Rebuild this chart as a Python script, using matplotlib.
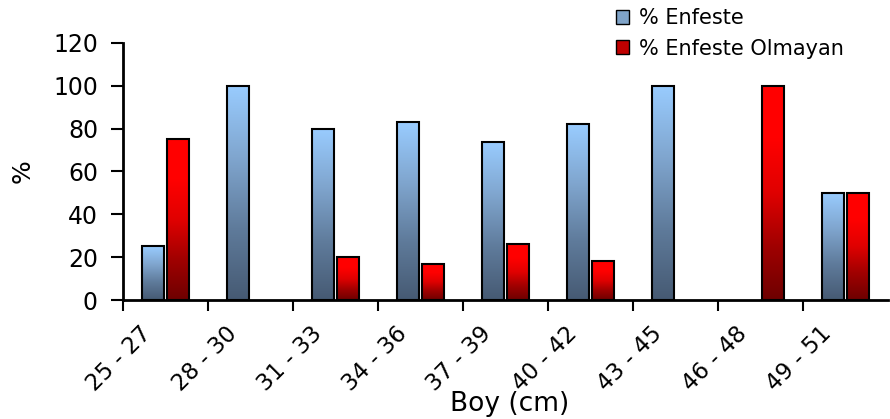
import numpy as np
import matplotlib.pyplot as plt
from matplotlib.colors import LinearSegmentedColormap
from matplotlib.patches import Patch

plt.rcParams['font.family'] = ['DejaVu Sans']

categories = ["25 - 27", "28 - 30", "31 - 33", "34 - 36", "37 - 39",
              "40 - 42", "43 - 45", "46 - 48", "49 - 51"]
enfeste = [25, 100, 80, 83, 74, 82, 100, 0, 50]
enfeste_olmayan = [75, 0, 20, 17, 26, 18, 0, 100, 50]

# gradients run bottom -> top
blue_cmap = LinearSegmentedColormap.from_list(
    "blue_grad", ["#465a73", "#5f7b9b", "#80a6cf", "#99ccff"])
red_cmap = LinearSegmentedColormap.from_list(
    "red_grad", ["#6e0000", "#a00000", "#e00000", "#ff0000", "#ff0000"])

fig = plt.figure(figsize=(8.9, 4.19), dpi=100)
ax = fig.add_axes([123 / 890, 119 / 419, 765 / 890, 257 / 419])

width = 0.27
offset = 0.147
grad = np.linspace(0, 1, 256).reshape(-1, 1)

def gradient_bars(xs, vals, cmap):
    for x, v in zip(xs, vals):
        if v <= 0:
            continue
        ax.imshow(grad, cmap=cmap, origin="lower", aspect="auto",
                  extent=(x - width / 2, x + width / 2, 0, v), zorder=2)
        ax.bar(x, v, width=width, facecolor="none", edgecolor="black",
               linewidth=1.5, zorder=3)

x = np.arange(len(categories))
gradient_bars(x - offset, enfeste, blue_cmap)
gradient_bars(x + offset, enfeste_olmayan, red_cmap)

ax.set_xlim(-0.5, len(categories) - 0.5)
ax.set_ylim(0, 120)
ax.set_yticks(range(0, 121, 20))
ax.tick_params(axis="y", labelsize=17, length=9, width=1.5, pad=9)

# tick marks between categories, labels near the centres
ax.set_xticks(np.arange(-0.5, len(categories) - 0.5, 1), minor=True)
ax.set_xticks(x - 0.3)
ax.set_xticklabels(categories, rotation=45, ha="right", rotation_mode="anchor",
                   fontsize=16.5)
ax.tick_params(axis="x", which="major", length=0, pad=16)
ax.tick_params(axis="x", which="minor", length=8, width=1.5)

for s in ["top", "right"]:
    ax.spines[s].set_visible(False)
for s in ["left", "bottom"]:
    ax.spines[s].set_linewidth(2)

ax.set_ylabel("%", fontsize=18, labelpad=13)
ax.set_xlabel("Boy (cm)", fontsize=19)
ax.xaxis.set_label_coords(0.505, -0.355)

handles = [Patch(facecolor="#7fa3c8", edgecolor="black", linewidth=1),
           Patch(facecolor="#c00000", edgecolor="black", linewidth=1)]
fig.legend(handles, ["% Enfeste", "% Enfeste Olmayan"], loc="upper left",
           bbox_to_anchor=(597 / 890, 1.025), frameon=False, fontsize=15,
           handlelength=0.65, handleheight=0.65, handletextpad=0.45,
           labelspacing=0.5)

fig.savefig("out.png", dpi=100)
